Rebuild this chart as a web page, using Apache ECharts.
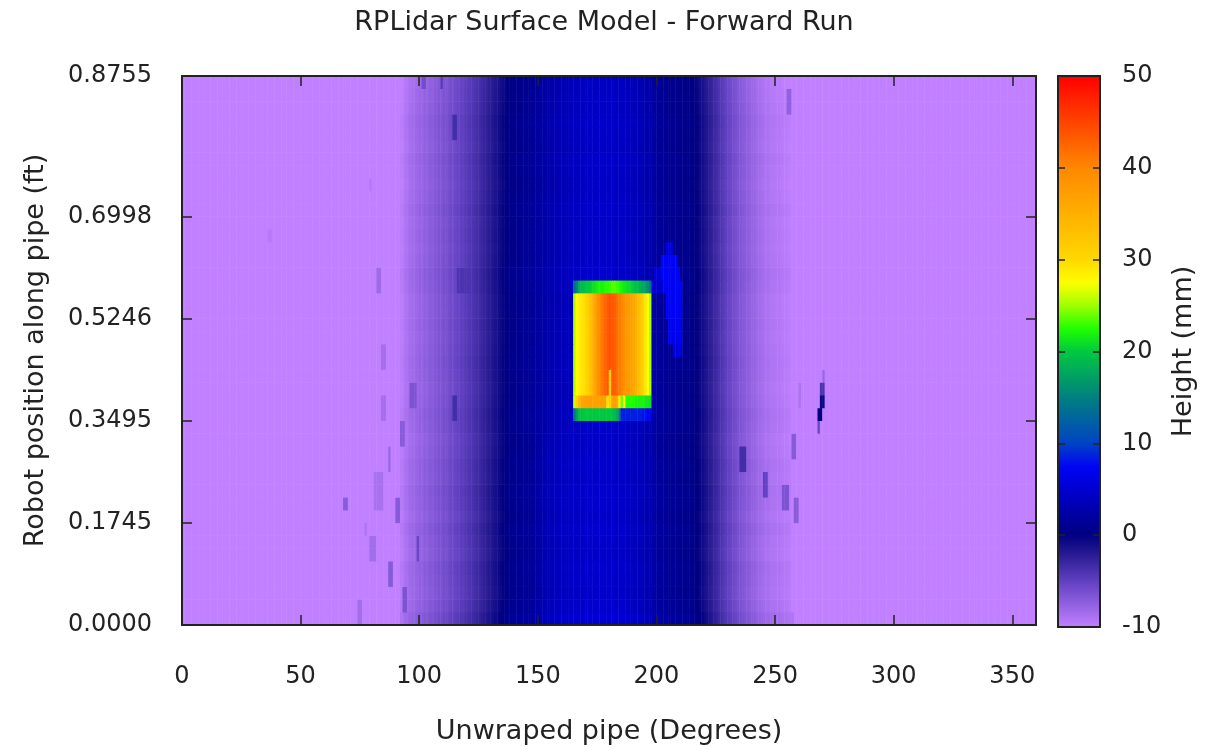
<!DOCTYPE html>
<html>
<head>
<meta charset="utf-8">
<title>RPLidar Surface Model - Forward Run</title>
<script src="https://cdn.jsdelivr.net/npm/echarts@6/dist/echarts.min.js"></script>
<style>
  html, body { margin: 0; padding: 0; background: #fff; }
  #chart { width: 1208px; height: 750px; }
</style>
</head>
<body>
<div id="chart"></div>
<script>
// ticks and labels
const xTickValues = [0, 50, 100, 150, 200, 250, 300, 350]
const yTickRows = [0, 8, 16, 24, 32, 43]
const yTickLabels = ['0.0000', '0.1745', '0.3495', '0.5246', '0.6998', '0.8755']

// grid of the scan: one column per degree, 43 scan rows along the pipe
const columnCount = 360
const rowCount = 43

// height (mm) across the pipe, one value per degree starting at bandStart; -10 outside
const bandStart = 90
const bandProfile = [
  -10, -10, -9.8, -9.5, -9.1, -8.8, -8.6, -8.5, -8.2, -8.1,
  -7.8, -7.9, -7.5, -7.6, -7.2, -7.3, -6.9, -7.0, -6.6, -6.7,
  -6.3, -6.4, -6.1, -5.8, -5.9, -5.5, -5.4, -5.0, -5.1, -4.6,
  -4.5, -4.3, -4.1, -3.9, -3.6, -3.4, -3.1, -2.8, -2.6, -2.2,
  -2.0, -1.7, -1.4, -1.1, -0.8, -0.4, -0.1, 0.3, 0.5, 0.7,
  0.8, 1.0, 0.9, 1.1, 1.0, 1.2, 1.1, 1.4, 1.5, 1.8,
  2.1, 2.5, 2.7, 3.1, 3.0, 3.4, 3.2, 3.6, 3.5, 3.8,
  3.7, 4.0, 3.8, 4.2, 4.0, 4.3, 4.0, 4.4, 4.1, 4.5,
  4.2, 4.6, 4.3, 4.7, 4.4, 4.6, 4.3, 4.7, 4.4, 4.6,
  4.3, 4.5, 4.2, 4.5, 4.1, 4.4, 4.0, 4.2, 3.8, 4.0,
  3.7, 3.8, 3.5, 3.6, 3.2, 3.2, 2.8, 2.7, 2.3, 2.2,
  1.8, 1.7, 1.3, 1.4, 1.1, 1.2, 0.9, 1.1, 0.8, 1.0,
  0.8, 0.9, 0.6, 0.7, 0.4, 0.3, 0.0, -0.3, -0.7, -1.0,
  -1.5, -1.8, -2.3, -2.6, -3.1, -3.4, -3.9, -4.2, -4.7, -5.0,
  -5.4, -5.6, -6.0, -6.2, -6.6, -6.8, -7.1, -7.2, -7.5, -7.6,
  -7.9, -8.0, -8.3, -8.4, -8.7, -8.8, -9.0, -9.0, -9.2, -9.2,
  -9.4, -9.4, -9.5, -9.6, -9.7, -9.8, -9.9, -10, -10, -10
]
// further up the pipe the dark stripe left of centre is wider: degrees 140..169, rows 15..42
const upperStart = 140
const upperRows = [15, 42]
const upperCenter = [
  0.7, 0.9, 0.9, 1.1, 1.1, 1.3, 1.3, 1.5, 1.6, 1.8,
  2.0, 2.2, 2.3, 2.5, 2.6, 2.8, 2.9, 3.1, 3.2, 3.4,
  3.4, 3.6, 3.6, 3.8, 3.8, 4.0, 3.9, 4.2, 4.1, 4.4
]
// row to row shading inside the band (row 0 = start of run)
const rowOffsets = [
  0.8, 0.4, 0.2, 0.3, 0.4, 0.1, 0.2, 0.4, 0.1, 0.3,
  0.4, 0.2, 0.3, 0.1, 0.0, 0.2, 0.3, 0.1, 0.0, 0.1,
  0.2, 0.1, 0.0, 0.1, 0.0, 0.0, 0.2, 0.3, 0.1, 0.0,
  0.1, 0.0, 0.2, 0.0, -0.1, 0.0, 0.1, -0.1, 0.0, 0.1,
  -0.1, -0.2, -0.3
]

// the raised block, one value per degree from boxStart
const boxStart = 165
const boxTopRow = 26
const boxTop = [
  13, 15, 18, 19, 19.5, 20, 20, 20.5, 21, 21.5, 22, 22, 22, 22.5, 22.5, 23, 23.5,
  23.5, 23, 22.5, 22, 21.5, 21, 21, 20.5, 20, 19.5, 19, 18.5, 18, 17, 16, 14
]
const boxBodyRows = [18, 25]
const boxBody = [
  25.5, 27.5, 28.5, 29, 29.5, 30.5, 31.5, 33, 35, 37, 39, 40.5, 41.5, 42.5, 43.5, 44, 43.5,
  43, 42, 41, 40, 39, 38, 37.5, 37, 36, 35, 33.5, 32, 30.5, 29, 27.5, 25
]
const boxBottomRow = 17
const boxBottom = [
  26, 31, 34, 36, 36.5, 37, 37, 37, 36.5, 37, 37, 37, 37, 37, 29, 37, 37,
  37, 36, 29, 24, 28, 22.5, 22.5, 22.5, 22.5, 22, 22, 22, 22, 21.5, 21.5, 21
]
const boxBaseRow = 16
const boxBase = [
  14, 17, 19.5, 19.5, 20, 20, 20, 20, 20, 20, 20, 20, 20, 20, 20, 20, 19.5,
  19, 18, 15, 8.5, 8.5, 8.5, 8.5, 8.5, 8.5, 8.5, 8.5, 8.5, 8, 8, 7.5, 7
]

// local features: [degFrom, degTo, rowFrom, rowTo, height]
const blob = [
  [204, 206, 29, 29, 6],
  [202, 208, 28, 28, 7.5],
  [199, 201, 27, 27, 5.5],
  [202, 209, 27, 27, 7.5],
  [198, 202, 26, 26, 5],
  [203, 210, 26, 26, 7.5],
  [204, 210, 24, 25, 7.5],
  [205, 210, 22, 23, 7],
  [207, 210, 21, 21, 6]
]
const spot = [
  [270, 270, 19, 19, -8],
  [269, 270, 18, 18, -4],
  [269, 270, 17, 17, -0.5],
  [268, 269, 16, 16, 0],
  [268, 268, 15, 15, -5.5]
]
const streaks = [
  [180, 180, 17, 19, 31],
  [84, 85, 20, 21, -8.5], [84, 85, 16, 17, -8.5], [92, 93, 14, 15, -7],
  [87, 87, 12, 13, -8], [81, 84, 9, 11, -8.8], [68, 69, 9, 9, -7],
  [90, 91, 8, 9, -7], [96, 98, 17, 18, -6.5], [114, 115, 16, 17, -3.5],
  [99, 99, 5, 6, -5.5], [79, 81, 5, 6, -8.5], [87, 88, 3, 4, -7],
  [93, 94, 1, 2, -6.5], [74, 75, 0, 1, -8.5], [77, 77, 7, 7, -9],
  [79, 79, 34, 34, -9.3], [82, 83, 26, 27, -8.3], [36, 37, 30, 30, -9.5],
  [114, 115, 38, 39, -3.5], [101, 102, 42, 42, -6], [109, 109, 42, 42, -4.5],
  [116, 121, 26, 27, -4],
  [235, 237, 12, 13, -3.5], [245, 246, 10, 11, -5], [253, 255, 9, 10, -6.5],
  [258, 259, 8, 9, -7], [257, 258, 13, 14, -7], [260, 260, 17, 18, -9],
  [255, 256, 40, 41, -7.5], [257, 257, 0, 0, -9]
]

// palette from -10 to 50 in steps of 2.5
const palette = [
  '#c080ff', '#9060e0', '#6040c0', '#302098', '#000080', '#0000a8', '#0000d0', '#0004f4',
  '#0044c4', '#0062a2', '#008080', '#00a460', '#00c840', '#20ff00', '#a0ff00', '#ffff00',
  '#ffd800', '#ffc400', '#ffb000', '#ff9c00', '#ff8800', '#ff6600', '#ff4400', '#ff2200', '#ff0000'
]

const grid = []
for (let r = 0; r < rowCount; r++) {
  const row = []
  for (let d = 0; d < columnCount; d++) {
    let p = bandProfile[d - bandStart]
    if (r >= upperRows[0] && r <= upperRows[1] && upperCenter[d - upperStart] !== undefined) {
      p = upperCenter[d - upperStart]
    }
    if (p === undefined) row.push(-10)
    else row.push(p > -10 ? p + rowOffsets[r] : p)
  }
  grid.push(row)
}
const putBoxRow = (r, values) => values.forEach((v, i) => { grid[r][boxStart + i] = v })
for (let r = boxBodyRows[0]; r <= boxBodyRows[1]; r++) putBoxRow(r, boxBody)
putBoxRow(boxTopRow, boxTop)
putBoxRow(boxBottomRow, boxBottom)
putBoxRow(boxBaseRow, boxBase)
blob.concat(spot, streaks).forEach(([d0, d1, r0, r1, v]) => {
  for (let r = r0; r <= r1; r++) {
    for (let d = d0; d <= d1; d++) grid[r][d] = v
  }
})

const cells = []
grid.forEach((row, r) => row.forEach((v, d) => cells.push([d, r, v])))

const font = 'DejaVu Sans'
const textColor = '#222'
const lineColor = '#222'

const chart = echarts.init(document.getElementById('chart'))
chart.setOption({
  animation: false,
  backgroundColor: '#fff',
  title: {
    text: 'RPLidar Surface Model - Forward Run',
    left: 'center',
    top: 4,
    textStyle: { fontFamily: font, fontSize: 27, fontWeight: 'normal', color: textColor }
  },
  grid: [
    { left: 182, top: 76, width: 854, height: 551 },
    { left: 1058, top: 76, width: 42, height: 551 }
  ],
  visualMap: {
    type: 'continuous',
    seriesIndex: 0,
    min: -10,
    max: 50,
    calculable: false,
    hoverLink: false,
    orient: 'vertical',
    left: 1058,
    top: 76,
    padding: 0,
    itemWidth: 42,
    itemHeight: 551,
    z: 1,
    inRange: { color: palette }
  },
  xAxis: [
    {
      type: 'category',
      gridIndex: 0,
      data: Array.from({ length: columnCount }, (_, i) => i),
      show: false
    },
    {
      type: 'value',
      gridIndex: 0,
      position: 'bottom',
      min: 0,
      max: 360,
      interval: 50,
      z: 10,
      name: 'Unwraped pipe (Degrees)',
      nameLocation: 'middle',
      nameGap: 93,
      nameTextStyle: { fontFamily: font, fontSize: 27, color: textColor },
      axisLine: { onZero: false, lineStyle: { color: lineColor, width: 2 } },
      axisTick: { inside: true, length: 10, lineStyle: { color: lineColor, width: 1.5 } },
      axisLabel: { margin: 40, showMaxLabel: false, fontFamily: font, fontSize: 24, color: textColor },
      splitLine: { show: false }
    },
    {
      type: 'value',
      gridIndex: 0,
      position: 'top',
      min: 0,
      max: 360,
      interval: 50,
      z: 10,
      axisLine: { onZero: false, lineStyle: { color: lineColor, width: 2 } },
      axisTick: { inside: true, length: 10, lineStyle: { color: lineColor, width: 1.5 } },
      axisLabel: { show: false },
      splitLine: { show: false }
    },
    {
      type: 'value',
      gridIndex: 1,
      position: 'bottom',
      min: 0,
      max: 1,
      z: 10,
      axisLine: { onZero: false, lineStyle: { color: lineColor, width: 2 } },
      axisTick: { show: false },
      axisLabel: { show: false },
      splitLine: { show: false }
    },
    {
      type: 'value',
      gridIndex: 1,
      position: 'top',
      min: 0,
      max: 1,
      z: 10,
      axisLine: { onZero: false, lineStyle: { color: lineColor, width: 2 } },
      axisTick: { show: false },
      axisLabel: { show: false },
      splitLine: { show: false }
    }
  ],
  yAxis: [
    {
      type: 'category',
      gridIndex: 0,
      data: Array.from({ length: rowCount }, (_, i) => i),
      show: false
    },
    {
      type: 'value',
      gridIndex: 0,
      position: 'left',
      min: 0,
      max: rowCount,
      z: 10,
      name: 'Robot position along pipe (ft)',
      nameLocation: 'middle',
      nameGap: 133,
      nameTextStyle: { fontFamily: font, fontSize: 27, color: textColor },
      axisLine: { onZero: false, lineStyle: { color: lineColor, width: 2 } },
      axisTick: {
        inside: true, length: 10, customValues: yTickRows,
        lineStyle: { color: lineColor, width: 1.5 }
      },
      axisLabel: {
        margin: 30, customValues: yTickRows, fontFamily: font, fontSize: 24, color: textColor,
        formatter: (v) => yTickLabels[yTickRows.indexOf(v)]
      },
      splitLine: { show: false }
    },
    {
      type: 'value',
      gridIndex: 0,
      position: 'right',
      min: 0,
      max: rowCount,
      z: 10,
      axisLine: { onZero: false, lineStyle: { color: lineColor, width: 2 } },
      axisTick: {
        inside: true, length: 10, customValues: yTickRows.slice(1, -1),
        lineStyle: { color: lineColor, width: 1.5 }
      },
      axisLabel: { show: false },
      splitLine: { show: false }
    },
    {
      type: 'value',
      gridIndex: 1,
      position: 'left',
      min: -10,
      max: 50,
      interval: 10,
      z: 10,
      axisLine: { onZero: false, lineStyle: { color: lineColor, width: 2 } },
      axisTick: { inside: true, length: 7, lineStyle: { color: lineColor, width: 1.5 } },
      axisLabel: { show: false },
      splitLine: { show: false }
    },
    {
      type: 'value',
      gridIndex: 1,
      position: 'right',
      min: -10,
      max: 50,
      interval: 10,
      z: 10,
      name: 'Height (mm)',
      nameLocation: 'middle',
      nameGap: 70,
      nameTextStyle: { fontFamily: font, fontSize: 27, color: textColor },
      axisLine: { onZero: false, lineStyle: { color: lineColor, width: 2 } },
      axisTick: { inside: true, length: 7, lineStyle: { color: lineColor, width: 1.5 } },
      axisLabel: { margin: 22, fontFamily: font, fontSize: 24, color: textColor },
      splitLine: { show: false }
    }
  ],
  series: [
    {
      type: 'heatmap',
      xAxisIndex: 0,
      yAxisIndex: 0,
      data: cells,
      progressive: 0,
      emphasis: { disabled: true },
      itemStyle: { borderWidth: 0 }
    }
  ]
})
</script>
</body>
</html>
